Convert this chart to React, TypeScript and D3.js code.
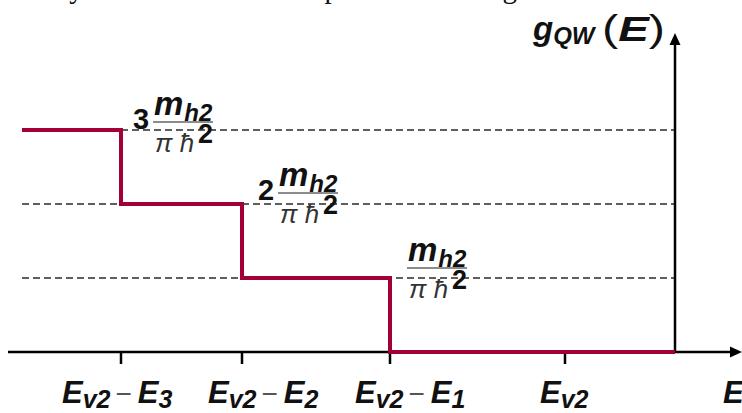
import React from "react";
import * as d3 from "d3";

// Energy values (relative to E_v2, arbitrary units) and DOS steps (units of m_h2/(pi hbar^2))
const tickNames = ["E3", "E2", "E1", "Ev2"];
const tickEnergies = [-4.44, -3.23, -1.75, 0];
const stepEnergies = [-5.43, -4.44, -3.23, -1.75, 1.1];
const stepLevels = [3, 2, 1, 0, 0];
const dashLevels = [1, 2, 3];
const fracLevels = [3, 2, 1];
const fracCoefs = ["3", "2", ""];

const W = 742;
const H = 413;
const RED = "#a3003a";
const FONT = "'Liberation Sans', Arial, sans-serif";

export default function App() {
  const x = d3.scaleLinear().domain([-5.43, 1.1]).range([22, 675]);
  const y = d3.scaleLinear().domain([0, 1]).range([352, 278]);
  const x0 = x(-5.57);
  const yAxisX = x(1.1);
  const axisY = y(0);

  const pts: [number, number][] = stepEnergies.map((e, i) => [e, stepLevels[i]]);
  const line = d3
    .line<[number, number]>()
    .x((d) => x(d[0]))
    .y((d) => y(d[1]))
    .curve(d3.curveStepAfter);

  const fracAnchorE = [tickEnergies[0], tickEnergies[1], tickEnergies[2]];
  const fracDx = [32, 36, 17];
  const fracDy = [-8, -11, -10];

  const labelStartX = [62, 208, 355];
  const labelBase = 403;

  return (
    <div style={{ position: "fixed", left: 0, top: 0 }}>
      <svg width={W} height={H} style={{ display: "block", background: "#fff" }}>
        {/* clipped caption text at top */}
        <text x={0} y={-2} fontFamily="'Liberation Serif', 'Times New Roman', serif" fontSize={29} fill="#111">
          density of states function is plotted in the figure below.
        </text>

        {/* dashed levels */}
        {dashLevels.map((g) => (
          <line
            key={g}
            x1={x(-5.43)}
            x2={yAxisX}
            y1={y(g)}
            y2={y(g)}
            stroke="#2a2a2a"
            strokeWidth={1.6}
            strokeDasharray="7 4"
          />
        ))}

        {/* axes */}
        <line x1={x0} x2={733} y1={axisY} y2={axisY} stroke="#000" strokeWidth={2.5} />
        <path d={`M742,${axisY} L730,${axisY - 5.5} L730,${axisY + 5.5} Z`} fill="#000" />
        <line x1={yAxisX} x2={yAxisX} y1={axisY} y2={45} stroke="#000" strokeWidth={2.5} />
        <path d={`M${yAxisX},33 L${yAxisX - 5.5},45 L${yAxisX + 5.5},45 Z`} fill="#000" />

        {/* ticks */}
        {tickEnergies.map((e, i) => (
          <line key={tickNames[i]} x1={x(e)} x2={x(e)} y1={axisY} y2={axisY + 12} stroke="#000" strokeWidth={2.5} />
        ))}

        {/* step DOS */}
        <path d={line(pts) || ""} fill="none" stroke={RED} strokeWidth={4} strokeLinejoin="miter" />

        {/* tick labels */}
        {tickNames.slice(0, 3).map((n, i) => (
          <text key={n} x={labelStartX[i]} y={labelBase} fontFamily={FONT} fontWeight="bold" fontStyle="italic" fontSize={31} fill="#111">
            E
            <tspan fontSize={25} dy={5}>v2</tspan>
            <tspan fontSize={28} dy={-5} fontWeight="normal" fontStyle="normal" fill="#555" dx={5}>−</tspan>
            <tspan fontSize={31} dx={6}>E</tspan>
            <tspan fontSize={25} dy={5}>{n.slice(1)}</tspan>
          </text>
        ))}
        <text x={540} y={labelBase} fontFamily={FONT} fontWeight="bold" fontStyle="italic" fontSize={31} fill="#111">
          E<tspan fontSize={25} dy={5}>v2</tspan>
        </text>
        <text x={723} y={labelBase} fontFamily={FONT} fontWeight="bold" fontStyle="italic" fontSize={31} fill="#111">
          E
        </text>

        {/* y axis label */}
        <text x={533} y={40} fontFamily={FONT} fontWeight="bold" fontStyle="italic" fontSize={33} fill="#111">
          g<tspan fontSize={24} dy={4}>QW</tspan>
        </text>
        <text x={602} y={41} fontFamily={FONT} fontSize={37} fill="#111" textLength={63} lengthAdjust="spacingAndGlyphs">
          (<tspan fontWeight="bold" fontStyle="italic" fontSize={35}>E</tspan>)
        </text>

        {/* fraction labels */}
        {fracLevels.map((g, i) => {
          const bx = x(fracAnchorE[i]) + fracDx[i];
          const by = y(g) + fracDy[i];
          return (
            <g key={g}>
              {fracCoefs[i] && (
                <text x={bx - 20} y={by + 7} fontFamily={FONT} fontWeight="bold" fontSize={29} fill="#111">
                  {fracCoefs[i]}
                </text>
              )}
              <line x1={bx} x2={bx + 60} y1={by} y2={by} stroke="#666" strokeWidth={1.6} />
              <text x={bx + 1} y={by - 7} fontFamily={FONT} fontWeight="bold" fontStyle="italic" fontSize={33} fill="#111">
                m<tspan fontSize={24} dy={6} dx={1}>h2</tspan>
              </text>
              <text x={bx + 2} y={by + 30} fontFamily={FONT} fontStyle="italic" fontSize={26} fill="#333">
                π ħ
              </text>
              <text x={bx + 45} y={by + 21} fontFamily={FONT} fontWeight="bold" fontSize={27} fill="#111">
                2
              </text>
            </g>
          );
        })}
      </svg>
    </div>
  );
}
